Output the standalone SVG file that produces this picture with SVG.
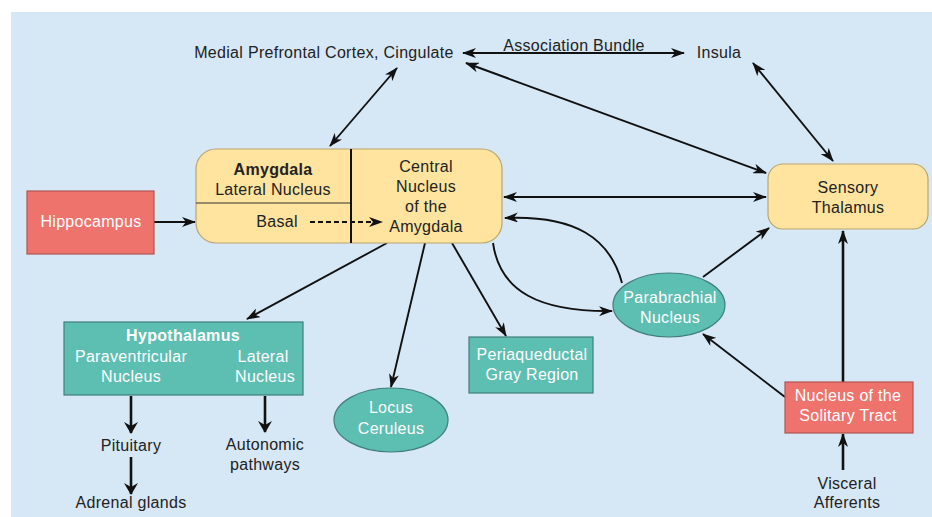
<svg xmlns="http://www.w3.org/2000/svg" width="932" height="517" viewBox="0 0 932 517">
<style>
text{font-family:"Liberation Sans",Arial,sans-serif;font-size:16px;letter-spacing:0.3px;text-anchor:middle;fill:#222}
.w{fill:#fff}
.b{font-weight:bold}
.yel{fill:#fee49f;stroke:#b9a66f;stroke-width:1.2}
.teal{fill:#5dbeb2;stroke:#3f7f77;stroke-width:1.2}
.red{fill:#ee736d;stroke:#b05550;stroke-width:1.2}
.c{fill:none;stroke:#111;stroke-width:1.9}
.t{stroke-width:2.6}
.a{marker-end:url(#ah)}
.d{marker-start:url(#ah);marker-end:url(#ah)}
</style>
<defs>
<marker id="ah" viewBox="0 0 14 10" refX="13" refY="5" markerWidth="14" markerHeight="10" markerUnits="userSpaceOnUse" orient="auto-start-reverse">
<path d="M0,0 L14,5 L0,10 L4,5 z" fill="#111"/>
</marker>
<marker id="ah2" viewBox="0 0 12 14" refX="11" refY="7" markerWidth="12" markerHeight="14" markerUnits="userSpaceOnUse" orient="auto">
<path d="M0,0 L12,7 L0,14 L4,7 z" fill="#111"/>
</marker>
</defs>
<rect x="11" y="12" width="921" height="505" fill="#d6e7f6"/>

<g id="connectors">
<path class="c d" d="M463,53 L684,53"/>
<path class="c d" d="M397,68 L330,146"/>
<path class="c d" d="M466,63 L766,173"/>
<path class="c d" d="M753,63 L833,161"/>
<path class="c d" d="M504,197 L766,197"/>
<path class="c a" d="M154,222 L195,222"/>
<path class="c a" d="M622,283 C610,238 575,215 505,218"/>
<path class="c a" d="M493,243 C500,292 540,312 612,311"/>
<path class="c a" d="M703,277 L769,228"/>
<path class="c a" d="M785,397 L703,334"/>
<path class="c a t" d="M843,382 L843,231"/>
<path class="c a t" d="M843,470 L843,434"/>
<path class="c a" d="M387,243 L247,319"/>
<path class="c a" d="M425,243 L391,387"/>
<path class="c a" d="M452,243 L506,336"/>
<path class="c t" d="M131,396 L131,433" marker-end="url(#ah2)"/>
<path class="c t" d="M265,396 L265,432" marker-end="url(#ah2)"/>
<path class="c t" d="M131,457 L131,494" marker-end="url(#ah2)"/>
</g>

<g id="mpfc"><text x="324" y="58">Medial Prefrontal Cortex, Cingulate</text></g>
<g id="assoc"><text x="574" y="51">Association Bundle</text></g>
<g id="insula"><text x="719" y="58">Insula</text></g>

<g id="amygdala">
<rect class="yel" x="196" y="149" width="306" height="94" rx="20"/>
<line x1="196" y1="203" x2="351" y2="203" stroke="#333" stroke-width="1.2"/>
<line x1="351" y1="149" x2="351" y2="243" stroke="#111" stroke-width="2"/>
<text class="b" x="273" y="175">Amygdala</text>
<text x="273" y="195">Lateral Nucleus</text>
<text x="277" y="227">Basal</text>
<path d="M310,222 L382,222" fill="none" stroke="#111" stroke-width="2" stroke-dasharray="5,3" marker-end="url(#ah)"/>
<text x="426" y="172">Central</text>
<text x="426" y="192">Nucleus</text>
<text x="426" y="212">of the</text>
<text x="426" y="232">Amygdala</text>
</g>

<g id="hippocampus">
<rect class="red" x="27" y="191" width="127" height="63"/>
<text class="w" x="91" y="227">Hippocampus</text>
</g>

<g id="thalamus">
<rect class="yel" x="768" y="164" width="160" height="65" rx="15"/>
<text x="848" y="193">Sensory</text>
<text x="848" y="213">Thalamus</text>
</g>

<g id="parabrachial">
<ellipse class="teal" cx="669" cy="305" rx="56" ry="32"/>
<text class="w" x="670" y="303">Parabrachial</text>
<text class="w" x="670" y="323">Nucleus</text>
</g>

<g id="nts">
<rect class="red" x="785" y="382" width="128" height="51"/>
<text class="w" x="848" y="401">Nucleus of the</text>
<text class="w" x="848" y="421">Solitary Tract</text>
</g>

<g id="visceral">
<text x="847" y="489">Visceral</text>
<text x="847" y="508">Afferents</text>
</g>

<g id="pag">
<rect class="teal" x="469" y="337" width="124" height="56"/>
<text class="w" x="532" y="360">Periaqueductal</text>
<text class="w" x="532" y="380">Gray Region</text>
</g>

<g id="locus">
<ellipse class="teal" cx="391" cy="420" rx="57" ry="32"/>
<text class="w" x="391" y="413">Locus</text>
<text class="w" x="391" y="434">Ceruleus</text>
</g>

<g id="hypothalamus">
<rect class="teal" x="64" y="322" width="239" height="73"/>
<text class="w b" x="183" y="341">Hypothalamus</text>
<text class="w" x="131" y="362">Paraventricular</text>
<text class="w" x="131" y="382">Nucleus</text>
<text class="w" x="263" y="362">Lateral</text>
<text class="w" x="265" y="382">Nucleus</text>
</g>

<g id="pituitary"><text x="131" y="451">Pituitary</text></g>
<g id="adrenal"><text x="131" y="508">Adrenal glands</text></g>
<g id="autonomic">
<text x="265" y="450">Autonomic</text>
<text x="265" y="470">pathways</text>
</g>
</svg>
